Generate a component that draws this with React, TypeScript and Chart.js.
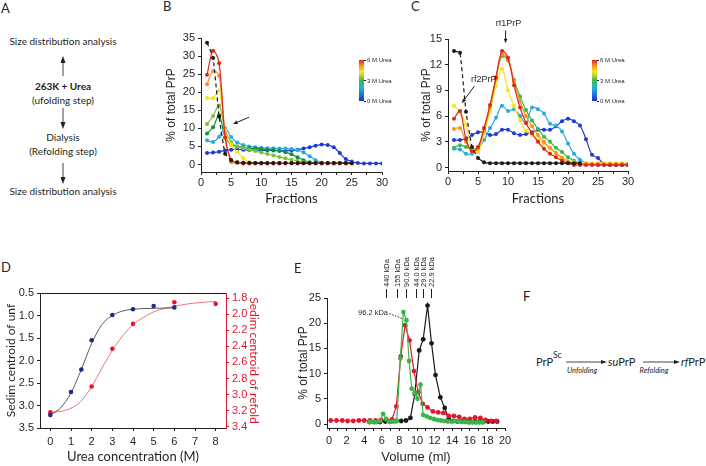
import React, { useEffect, useRef } from 'react';
import { Chart, registerables } from 'chart.js';

Chart.register(...registerables);

const SANS = "'Liberation Sans', Arial, Helvetica, sans-serif";
const HUM = "Lato, 'Open Sans', sans-serif";
const INK = '#231f20';

// ---------------- Panel B : size distribution after unfolding ----------------
const fractions = [1, 2, 3, 4, 5, 6, 7, 8, 9, 10, 11, 12, 13, 14, 15, 16, 17, 18, 19, 20, 21, 22, 23, 24, 25, 26, 27, 28, 29, 30];
const bBlack = [33.7, 29.5, 13.3, 3.0, 1.2, 0.6, 0.5, 0.5, 0.4, 0.4, 0.4, 0.4, 0.4, 0.4, 0.4, 0.4, 0.4, 0.4, 0.4, 0.4, 0.4, 0.4, 0.4, 0.4, 0.4];
const bRed = [24.8, 31.5, 28.0, 7.5, 1.2, 0.5, 0.3, 0.3, 0.3, 0.3, 0.3, 0.3, 0.3, 0.3, 0.3, 0.3, 0.3, 0.3, 0.3, 0.3, 0.3, 0.3, 0.3, 0.3, 0.3];
const bOrange = [22.2, 25.9, 24.5, 8.5, 0.6, 0.6, 0.5, 0.4, 0.4, 0.4, 0.4, 0.4, 0.4, 0.4, 0.4, 0.4, 0.4, 0.4, 0.4, 0.4, 0.4, 0.4, 0.4, 0.4, 0.4];
const bYellow = [18.4, 18.3, 20.5, 9.5, 5.5, 3.5, 1.8, 0.6, 0.5, 0.4, 0.4, 0.4, 0.4, 0.4, 0.4, 0.4, 0.4, 0.4, 0.4, 0.4, 0.4, 0.4, 0.4, 0.4, 0.4];
const bLime = [11.2, 13.4, 16.3, 9.5, 6.2, 5.0, 4.5, 4.1, 3.7, 3.3, 2.9, 2.5, 2.1, 1.7, 1.3, 1.0, 0.7, 0.5, 0.4, 0.4, 0.4, 0.4, 0.4, 0.4, 0.4];
const bGreen = [8.6, 10.3, 13.6, 7.5, 5.5, 5.0, 4.7, 4.5, 4.4, 4.3, 4.1, 4.0, 3.8, 3.4, 2.8, 2.0, 1.2, 0.6, 0.4, 0.4, 0.4, 0.4, 0.4, 0.4, 0.4];
const bCyan = [6.7, 6.2, 7.7, 10.0, 7.6, 6.1, 5.4, 5.0, 4.8, 4.6, 4.5, 4.5, 4.4, 4.4, 4.3, 4.0, 3.3, 2.3, 1.2, 0.5, 0.4, 0.4, 0.4, 0.4, 0.4];
const bBlue = [3.2, 3.3, 3.5, 3.9, 4.1, 4.2, 4.1, 4.0, 4.0, 3.9, 3.9, 3.9, 3.8, 3.8, 3.9, 4.1, 4.4, 4.8, 5.2, 5.5, 5.4, 4.8, 3.2, 1.5, 0.8, 0.4, 0.3, 0.3, 0.3, 0.3];

// ---------------- Panel C : size distribution after refolding ----------------
const cBlack = [13.6, 13.4, 6.5, 2.4, 1.1, 0.6, 0.5, 0.5, 0.5, 0.5, 0.5, 0.5, 0.5, 0.5, 0.5, 0.5, 0.5, 0.5, 0.5, 0.5, 0.5, 0.5];
const cRed = [5.7, 6.6, 3.3, 1.9, 2.4, 4.6, 7.3, 10.5, 13.6, 12.8, 9.6, 7.0, 5.2, 4.0, 3.0, 2.2, 1.6, 1.2, 0.8, 0.5, 0.3, 0.3, 0.3, 0.3, 0.3, 0.3, 0.3, 0.3, 0.3, 0.3];
const cOrange = [4.5, 4.6, 3.0, 1.8, 2.2, 4.3, 7.0, 10.3, 13.2, 12.6, 10.0, 7.8, 6.0, 4.8, 3.8, 3.0, 2.3, 1.7, 1.1, 0.7, 0.5, 0.4, 0.4, 0.4, 0.4, 0.4, 0.4, 0.4, 0.4, 0.4];
const cYellow = [7.2, 6.5, 5.0, 2.0, 1.8, 4.0, 6.5, 9.5, 11.5, 9.0, 7.2, 5.5, 4.3, 3.8, 3.3, 2.8, 2.2, 1.7, 1.2, 0.8, 0.6, 0.5, 0.5, 0.5, 0.5, 0.5, 0.5, 0.5, 0.5, 0.5];
const cGreen = [2.3, 2.6, 2.4, 2.2, 2.3, 4.2, 7.0, 10.5, 13.0, 12.5, 10.2, 8.3, 6.7, 5.5, 4.5, 3.6, 3.0, 2.3, 1.8, 1.2, 0.8, 0.5, 0.4, 0.4, 0.4, 0.4, 0.4, 0.4, 0.4, 0.4];
const cCyan = [2.2, 2.1, 1.6, 1.6, 2.2, 3.2, 4.6, 5.8, 7.2, 6.6, 6.8, 6.0, 5.2, 7.0, 6.8, 6.3, 5.1, 4.9, 4.2, 2.8, 1.6, 0.9, 0.5, 0.4, 0.3, 0.3, 0.3, 0.3, 0.3, 0.3];
const cBlue = [3.2, 3.2, 3.4, 3.8, 4.1, 4.1, 3.8, 3.9, 4.4, 4.4, 4.0, 3.8, 3.9, 4.1, 4.4, 4.4, 4.4, 4.8, 5.4, 5.7, 5.4, 4.9, 3.3, 1.5, 1.1, 0.4, 0.3, 0.3, 0.3, 0.3];
const ureaLabels = ['6 M Urea', '3 M Urea', '0 M Urea'];

// ---------------- Panel D : sedimentation centroid vs urea ----------------
const dUreaUnf = [0, 1, 1.5, 2, 3, 4, 5, 6];
const dCentroidUnf = [3.21, 2.7, 2.2, 1.55, 0.99, 0.86, 0.79, 0.82];
const dUreaRef = [0, 2, 3, 4, 6, 8];
const dCentroidRef = [3.22, 2.9, 2.43, 2.12, 1.85, 1.87];
const dFitUnfX = [0, 0.5, 1, 1.5, 2, 2.5, 3, 3.5, 4, 5, 6];
const dFitUnfY = [3.21, 3.05, 2.72, 2.2, 1.62, 1.2, 1.0, 0.9, 0.86, 0.84, 0.83];
const dFitRefX = [0, 0.5, 1, 1.5, 2, 2.5, 3, 3.5, 4, 4.5, 5, 6, 7, 8];
const dFitRefY = [3.22, 3.21, 3.17, 3.08, 2.9, 2.67, 2.45, 2.27, 2.13, 2.04, 1.97, 1.9, 1.86, 1.84];

// ---------------- Panel E : gel filtration ----------------
const eRedVol = [0.2, 0.85, 1.5, 2.1, 2.75, 3.4, 4.0, 4.65, 5.3, 5.9, 6.55, 7.15, 7.65, 8.15, 8.65, 9.15, 9.65, 10.15, 10.65, 11.2, 11.8, 12.4, 13.0, 13.6, 14.2, 14.8, 15.4, 16.0, 16.6, 17.2, 17.8, 18.4, 19.0];
const eRedPct = [0.7, 0.7, 0.7, 0.6, 0.6, 0.7, 0.7, 0.7, 0.7, 0.8, 0.8, 0.9, 3.5, 13.4, 19.6, 16.6, 10.5, 6.3, 4.0, 3.3, 2.5, 2.3, 2.2, 1.6, 1.6, 1.4, 1.0, 1.0, 1.3, 1.2, 0.8, 0.6, 0.6];
const eGreenVol = [4.6, 5.0, 5.4, 5.8, 6.15, 6.5, 6.9, 7.3, 7.7, 8.1, 8.45, 8.8, 9.1, 9.4, 9.75, 10.05, 10.4, 10.7, 11.1, 11.5, 11.9, 12.3, 12.7, 13.1, 13.5, 13.9, 14.3, 14.7, 15.1, 15.5, 15.9, 16.3, 16.7, 17.1, 17.5];
const eGreenPct = [0.4, 0.4, 0.4, 0.6, 2.0, 1.0, 0.4, 0.5, 0.6, 13.0, 22.2, 20.6, 12.5, 7.0, 6.1, 5.0, 7.8, 1.8, 1.5, 1.2, 1.0, 0.8, 0.7, 0.6, 0.5, 0.5, 0.6, 0.5, 0.4, 0.4, 0.3, 0.3, 0.3, 0.3, 0.3];
const eBlackVol = [4.6, 5.2, 5.8, 6.4, 7.0, 7.6, 8.2, 8.75, 9.25, 9.75, 10.25, 10.7, 11.2, 11.65, 12.1, 12.65, 13.15, 13.6, 14.1, 14.6, 15.1, 15.6, 16.1, 16.6, 17.1, 17.6, 18.1, 18.6, 19.1];
const eBlackPct = [0.4, 0.4, 0.4, 0.5, 0.5, 0.6, 0.6, 0.7, 1.2, 6.0, 14.6, 16.8, 23.5, 16.0, 9.7, 5.3, 3.2, 1.0, 0.6, 0.5, 0.5, 0.5, 0.5, 0.5, 0.5, 0.5, 0.5, 0.5, 0.5];
const markerLabels = ['440 kDa', '155 kDa', '90.0 kDa', '44.0 kDa', '29.0 kDa', '22.9 kDa'];
const markerVolumes = [6.5, 7.7, 8.75, 9.85, 10.7, 11.55];

const COL = {
  black: '#1a1a1a',
  red: '#e2231a',
  orange: '#f7941d',
  yellow: '#f6e31a',
  lime: '#7cc242',
  green: '#11903f',
  green2: '#3cb44b',
  cyan: '#27aae1',
  blue: '#1f3bd6',
  navy: '#1f2a86',
  dred: '#e0182d',
};

const tickFont = { family: SANS, size: 11 };
const isMult = (v: number, m: number) => Math.abs(v / m - Math.round(v / m)) < 1e-6;

function tickList(lo: number, hi: number, step: number) {
  const out: any[] = [];
  const n = Math.round((hi - lo) / step);
  for (let i = 0; i <= n; i++) out.push({ value: Math.round((lo + i * step) * 1000) / 1000 });
  return out;
}

function xAxis(o: any) {
  return {
    type: 'linear',
    position: 'bottom',
    min: o.min,
    max: o.max,
    afterBuildTicks: (s: any) => {
      s.ticks = tickList(o.lo, o.hi, o.step);
    },
    afterFit: (s: any) => {
      s.height = o.h;
    },
    ticks: {
      autoSkip: false,
      maxRotation: 0,
      padding: o.tickPad,
      font: tickFont,
      color: INK,
      callback: (v: number) => (isMult(v, o.every) ? String(v) : ''),
    },
    grid: { display: true, drawOnChartArea: false, drawTicks: true, tickLength: 3, color: INK, lineWidth: 1 },
    border: { display: true, color: INK, width: 1 },
    title: { display: true, text: o.title, font: o.titleFont, color: INK, padding: { top: 0, bottom: o.titlePad } },
  };
}

function yAxis(o: any) {
  const color = o.color || INK;
  return {
    type: 'linear',
    position: o.position || 'left',
    reverse: !!o.reverse,
    min: o.min,
    max: o.max,
    afterBuildTicks: (s: any) => {
      s.ticks = tickList(o.lo, o.hi, o.step);
    },
    afterFit: (s: any) => {
      s.width = o.w;
    },
    ticks: {
      autoSkip: false,
      padding: 3,
      font: tickFont,
      color,
      callback: (v: number) => (o.fmt ? v.toFixed(o.fmt) : String(v)),
    },
    grid: { display: true, drawOnChartArea: false, drawTicks: true, tickLength: 3, color, lineWidth: 1 },
    border: { display: true, color, width: 1 },
    title: { display: true, text: o.title, font: o.titleFont, color, padding: { top: o.titlePad, bottom: 0 } },
  };
}

function series(xs: number[], ys: number[], color: string, extra: any = {}) {
  return {
    data: ys.map((y, i) => ({ x: xs[i], y })),
    borderColor: color,
    backgroundColor: color,
    borderWidth: 1.2,
    pointRadius: 2,
    pointHoverRadius: 2,
    pointBorderWidth: 0,
    tension: 0.35,
    fill: false,
    ...extra,
  };
}

function drawArrow(ctx: any, x1: number, y1: number, x2: number, y2: number, head: number, color: string, dash?: number[]) {
  const ang = Math.atan2(y2 - y1, x2 - x1);
  ctx.save();
  ctx.strokeStyle = color;
  ctx.fillStyle = color;
  ctx.lineWidth = 1;
  if (dash) ctx.setLineDash(dash);
  ctx.beginPath();
  ctx.moveTo(x1, y1);
  ctx.lineTo(x2 - Math.cos(ang) * head * 0.7, y2 - Math.sin(ang) * head * 0.7);
  ctx.stroke();
  ctx.setLineDash([]);
  if (head > 0) {
    ctx.beginPath();
    ctx.moveTo(x2, y2);
    ctx.lineTo(x2 - head * Math.cos(ang - 0.38), y2 - head * Math.sin(ang - 0.38));
    ctx.lineTo(x2 - head * Math.cos(ang + 0.38), y2 - head * Math.sin(ang + 0.38));
    ctx.closePath();
    ctx.fill();
  }
  ctx.restore();
}

// annotations in data coordinates
function annotationPlugin(id: string, anns: any[], yId = 'y') {
  return {
    id,
    afterDatasetsDraw(chart: any) {
      const ctx = chart.ctx;
      const xs = chart.scales.x;
      const ys = chart.scales[yId];
      const P = (p: number[]) => [xs.getPixelForValue(p[0]), ys.getPixelForValue(p[1])];
      anns.forEach((a) => {
        if (a.kind === 'arrow') {
          const [x1, y1] = P(a.from);
          const [x2, y2] = P(a.to);
          drawArrow(ctx, x1, y1, x2, y2, a.head ?? 5, a.color || INK, a.dash);
        } else if (a.kind === 'text') {
          const [x, y] = P(a.at);
          ctx.save();
          ctx.fillStyle = a.color || INK;
          ctx.font = `${a.size || 9}px ${a.family || SANS}`;
          ctx.textAlign = a.align || 'center';
          ctx.textBaseline = 'middle';
          ctx.fillText(a.text, x, y);
          ctx.restore();
        }
      });
    },
  };
}

const commonOpts = {
  responsive: false,
  maintainAspectRatio: false,
  animation: false,
  events: [],
  plugins: { legend: { display: false }, tooltip: { enabled: false } },
};

function makeB() {
  return {
    type: 'line',
    data: {
      datasets: [
        series(fractions, bBlack, COL.black, { borderDash: [4, 3], tension: 0.15 }),
        series(fractions, bRed, COL.red),
        series(fractions, bOrange, COL.orange),
        series(fractions, bYellow, COL.yellow),
        series(fractions, bLime, COL.lime),
        series(fractions, bGreen, COL.green),
        series(fractions, bCyan, COL.cyan),
        series(fractions, bBlue, COL.blue),
      ],
    },
    options: {
      ...commonOpts,
      layout: { padding: { top: 18, right: 12, left: 0, bottom: 0 } },
      scales: {
        x: xAxis({ min: 0, max: 30, lo: 0, hi: 30, step: 2.5, every: 5, h: 38, tickPad: 1, title: 'Fractions', titleFont: { family: HUM, size: 13 }, titlePad: 3 }),
        y: yAxis({ min: -2.08, max: 35, lo: 0, hi: 35, step: 5, w: 51, title: '% of total PrP', titleFont: { family: SANS, size: 12 }, titlePad: 14 }),
      },
    },
    plugins: [annotationPlugin('annB', [{ kind: 'arrow', from: [8.0, 13.1], to: [5.3, 11.2], head: 5 }])],
  };
}

function makeC() {
  return {
    type: 'line',
    data: {
      datasets: [
        series(fractions, cBlack, COL.black, {
          tension: 0.1,
          segment: { borderDash: (ctx: any) => (ctx.p0DataIndex < 4 ? [4, 3] : undefined) },
        }),
        series(fractions, cRed, COL.red),
        series(fractions, cOrange, COL.orange),
        series(fractions, cYellow, COL.yellow),
        series(fractions, cGreen, COL.green2),
        series(fractions, cCyan, COL.cyan),
        series(fractions, cBlue, COL.blue),
      ],
    },
    options: {
      ...commonOpts,
      layout: { padding: { top: 19, right: 12, left: 0, bottom: 0 } },
      scales: {
        x: xAxis({ min: 0, max: 30, lo: 0, hi: 30, step: 2.5, every: 5, h: 39, tickPad: 1, title: 'Fractions', titleFont: { family: HUM, size: 13 }, titlePad: 3 }),
        y: yAxis({ min: -0.41, max: 15, lo: 0, hi: 15, step: 3, w: 48, title: '% of total PrP', titleFont: { family: SANS, size: 12 }, titlePad: 19 }),
      },
    },
    plugins: [
      annotationPlugin('annC', [
        { kind: 'text', at: [10.1, 16.85], text: 'rf1PrP', size: 9 },
        { kind: 'arrow', from: [9.6, 16.0], to: [9.6, 14.5], head: 5 },
        { kind: 'text', at: [5.95, 10.3], text: 'rf2PrP', size: 9 },
        { kind: 'arrow', from: [4.4, 9.5], to: [2.3, 7.5], head: 5 },
      ]),
    ],
  };
}

const boxTopPlugin = {
  id: 'boxTop',
  afterDraw(chart: any) {
    const { left, right, top } = chart.chartArea;
    const ctx = chart.ctx;
    ctx.save();
    ctx.strokeStyle = INK;
    ctx.lineWidth = 1;
    ctx.beginPath();
    ctx.moveTo(left, Math.round(top) + 0.5);
    ctx.lineTo(right, Math.round(top) + 0.5);
    ctx.stroke();
    ctx.restore();
  },
};

function makeD() {
  return {
    type: 'line',
    data: {
      datasets: [
        series(dUreaUnf, dCentroidUnf, COL.navy, { showLine: false, pointRadius: 2.3, yAxisID: 'y' }),
        series(dUreaRef, dCentroidRef, COL.dred, { showLine: false, pointRadius: 2.3, yAxisID: 'y2' }),
        series(dFitUnfX, dFitUnfY, '#333333', { pointRadius: 0, borderWidth: 0.8, cubicInterpolationMode: 'monotone', yAxisID: 'y' }),
        series(dFitRefX, dFitRefY, '#e8505e', { pointRadius: 0, borderWidth: 0.8, cubicInterpolationMode: 'monotone', yAxisID: 'y2' }),
      ],
    },
    options: {
      ...commonOpts,
      layout: { padding: { top: 13, right: 0, left: 0, bottom: 0 } },
      scales: {
        x: xAxis({ min: -0.5, max: 8.5, lo: 0, hi: 8, step: 1, every: 1, h: 38, tickPad: 4, title: 'Urea concentration (M)', titleFont: { family: HUM, size: 13 }, titlePad: 1 }),
        y: yAxis({ min: 0.5, max: 3.5, lo: 0.5, hi: 3.5, step: 0.5, w: 40, reverse: true, fmt: 1, title: 'Sedim centroid of unf', titleFont: { family: HUM, size: 12 }, titlePad: 4 }),
        y2: yAxis({ position: 'right', min: 1.735, max: 3.417, lo: 1.8, hi: 3.4, step: 0.2, w: 40, reverse: true, fmt: 1, color: COL.dred, title: 'Sedim centroid of refold', titleFont: { family: HUM, size: 12 }, titlePad: 5 }),
      },
    },
    plugins: [boxTopPlugin],
  };
}

const markerPlugin = {
  id: 'markers',
  afterDraw(chart: any) {
    const ctx = chart.ctx;
    const xs = chart.scales.x;
    const top = chart.chartArea.top;
    ctx.save();
    ctx.strokeStyle = INK;
    ctx.fillStyle = INK;
    ctx.lineWidth = 1;
    ctx.font = `7.5px ${SANS}`;
    markerVolumes.forEach((v, i) => {
      const x = Math.round(xs.getPixelForValue(v)) + 0.5;
      ctx.beginPath();
      ctx.moveTo(x, top - 9);
      ctx.lineTo(x, top);
      ctx.stroke();
      ctx.save();
      ctx.translate(x, top - 11);
      ctx.rotate(-Math.PI / 2);
      ctx.textAlign = 'left';
      ctx.textBaseline = 'middle';
      ctx.fillText(markerLabels[i], 0, 0.5);
      ctx.restore();
    });
    ctx.restore();
  },
};

function makeE() {
  return {
    type: 'line',
    data: {
      datasets: [
        series(eGreenVol, eGreenPct, COL.green2, { tension: 0, pointRadius: 2.4 }),
        series(eRedVol, eRedPct, COL.dred, { tension: 0, pointRadius: 2.4 }),
        series(eBlackVol, eBlackPct, COL.black, { tension: 0, pointRadius: 2.4 }),
      ],
    },
    options: {
      ...commonOpts,
      layout: { padding: { top: 58, right: 15, left: 0, bottom: 0 } },
      scales: {
        x: xAxis({ min: -0.23, max: 20, lo: 0, hi: 20, step: 1, every: 2, h: 38, tickPad: 3, title: 'Volume (ml)', titleFont: { family: SANS, size: 13 }, titlePad: 1 }),
        y: yAxis({ min: -0.79, max: 25, lo: 0, hi: 25, step: 5, w: 47, title: '% of total PrP', titleFont: { family: SANS, size: 12 }, titlePad: 16 }),
      },
    },
    plugins: [
      markerPlugin,
      annotationPlugin('annE', [
        { kind: 'text', at: [6.7, 22.1], text: '96.2 kDa', size: 7.5, align: 'right' },
        { kind: 'arrow', from: [6.85, 21.9], to: [8.35, 20.9], head: 0, dash: [1.5, 1.5] },
      ]),
    ],
  };
}

function ChartBox({ left, top, width, height, make }: any) {
  const ref = useRef<HTMLCanvasElement>(null);
  useEffect(() => {
    const chart = new Chart(ref.current as HTMLCanvasElement, make());
    return () => chart.destroy();
  }, []);
  return (
    <canvas
      ref={ref}
      width={width}
      height={height}
      style={{ position: 'absolute', left, top, width, height }}
    />
  );
}

const CB_GRADIENT =
  'linear-gradient(to top, #1d2fc4 0%, #1b7fe0 18%, #25b3d8 33%, #3db54a 50%, #b8d433 62%, #fbe51c 72%, #f7941d 86%, #e0201e 100%)';

function ColorBar({ left, top }: any) {
  return (
    <div style={{ position: 'absolute', left, top, width: 44, height: 42 }}>
      <div style={{ position: 'absolute', left: 0, top: 0, width: 5, height: 41, background: CB_GRADIENT }} />
      {ureaLabels.map((t, i) => (
        <div
          key={t}
          style={{
            position: 'absolute',
            left: 5,
            top: i * 20.5,
            transform: 'translateY(-50%)',
            display: 'flex',
            alignItems: 'center',
            fontFamily: SANS,
            fontSize: 6,
            lineHeight: 1,
            color: INK,
            whiteSpace: 'nowrap',
          }}
        >
          <span style={{ display: 'inline-block', width: 2, height: 1, background: INK, marginRight: 1 }} />
          {t}
        </div>
      ))}
    </div>
  );
}

function T({ x, y, children, size = 9, bold = false, italic = false, family = HUM, align = 'center' }: any) {
  const tx = align === 'center' ? '-50%' : align === 'right' ? '-100%' : '0';
  return (
    <div
      style={{
        position: 'absolute',
        left: x,
        top: y,
        transform: `translate(${tx}, -50%)`,
        fontFamily: family,
        fontSize: size,
        fontWeight: bold ? 700 : 400,
        fontStyle: italic ? 'italic' : 'normal',
        lineHeight: 1,
        color: INK,
        whiteSpace: 'nowrap',
      }}
    >
      {children}
    </div>
  );
}

export default function App() {
  return (
    <div
      style={{
        position: 'absolute',
        left: 0,
        top: 0,
        width: 706,
        height: 466,
        background: '#ffffff',
        overflow: 'hidden',
      }}
    >
      <ChartBox left={150} top={20} width={244} height={190} make={makeB} />
      <ChartBox left={400} top={20} width={240} height={190} make={makeC} />
      <ChartBox left={0} top={280} width={266} height={186} make={makeD} />
      <ChartBox left={280} top={240} width={240} height={226} make={makeE} />

      <ColorBar left={359} top={60} />
      <ColorBar left={592} top={60} />

      {/* panel letters */}
      <T x={1} y={8} size={13} align="left">A</T>
      <T x={163} y={6} size={13} align="left">B</T>
      <T x={411} y={6} size={13} align="left">C</T>
      <T x={1} y={267} size={13} align="left">D</T>
      <T x={294} y={268} size={13} align="left">E</T>
      <T x={523} y={296} size={13} align="left">F</T>

      {/* panel A flow */}
      <T x={63} y={41} size={10}>Size distribution analysis</T>
      <T x={63} y={86} size={10} bold>263K + Urea</T>
      <T x={63} y={100} size={10}>(ufolding step)</T>
      <T x={63} y={137} size={10}>Dialysis</T>
      <T x={63} y={151} size={10}>(Refolding step)</T>
      <T x={63} y={191} size={10}>Size distribution analysis</T>

      {/* panel F scheme */}
      <T x={536} y={361} size={11} align="left">PrP</T>
      <T x={553} y={355} size={8.5} align="left">Sc</T>
      <T x={582} y={371} size={7.5} italic>Unfolding</T>
      <T x={608} y={361} size={11} align="left"><i>su</i>PrP</T>
      <T x={654} y={371} size={7.5} italic>Refolding</T>
      <T x={681} y={361} size={11} align="left"><i>rf</i>PrP</T>

      <svg width={706} height={466} style={{ position: 'absolute', left: 0, top: 0, pointerEvents: 'none' }}>
        <g stroke="#444" strokeWidth={1}>
          <line x1={63} y1={76} x2={63} y2={62} />
          <line x1={63} y1={108} x2={63} y2={123} />
          <line x1={63} y1={163} x2={63} y2={178} />
          <line x1={566} y1={362} x2={603} y2={362} />
          <line x1={643} y1={362} x2={676} y2={362} />
        </g>
        <g fill={INK}>
          <polygon points="63,56 60.5,63 65.5,63" />
          <polygon points="63,129 60.5,122 65.5,122" />
          <polygon points="63,184 60.5,177 65.5,177" />
          <polygon points="607,362 601,360 601,364" />
          <polygon points="680,362 674,360 674,364" />
        </g>
      </svg>
    </div>
  );
}
